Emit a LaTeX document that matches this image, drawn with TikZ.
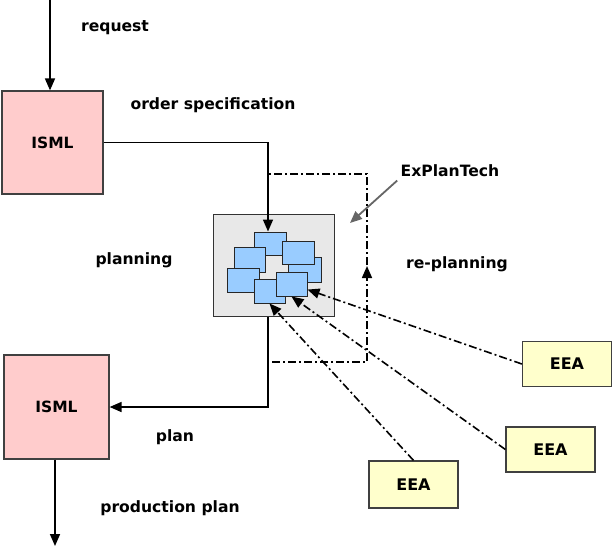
\documentclass[tikz,border=0pt]{standalone}
\usepackage{fontspec}
\setmainfont{DejaVu Sans}
\usetikzlibrary{arrows.meta}

\definecolor{ismlpink}{RGB}{255,204,204}
\definecolor{eeayellow}{RGB}{255,255,204}
\definecolor{agentblue}{RGB}{153,204,255}
\definecolor{planggrey}{RGB}{232,232,232}

\tikzset{
	lbl/.style={font=\fontsize{15.6}{18}\selectfont\bfseries},
	isml/.style={draw=black!75, fill=ismlpink, line width=1.2pt, font=\fontsize{15.5}{18}\selectfont\bfseries},
	eea/.style={draw=black!75, fill=eeayellow, line width=1.2pt, minimum width=89pt, minimum height=45pt, font=\fontsize{16}{18}\selectfont\bfseries},
	agent/.style={draw=black!85, fill=agentblue, line width=1pt, inner sep=0pt},
	flow/.style={line width=1.6pt, -{Triangle[length=12pt,width=10pt]}},
	dashdot/.style={line width=1.6pt, dash pattern=on 8pt off 3pt on 2pt off 3pt},
}

\begin{document}
\begin{tikzpicture}[x=1pt, y=-1pt]
	\useasboundingbox (0, 0) rectangle (615, 547);
	\coordinate (req) at (50, 0);
	\coordinate (out) at (55, 546);
	\coordinate (xpa) at (268, 174);
	\coordinate (xpb) at (367, 362);
	\coordinate (xptip) at (350, 223);
	\coordinate (rp) at (367, 278);
	\draw[dashdot] (xpa) rectangle (xpb);
	\draw[flow] (rp) -- ++(0, -12);

	\node[isml, minimum width=101pt, minimum height=103pt] (isml1) at (52.5, 142.5) {ISML};
	\node[isml, minimum width=105pt, minimum height=104pt] (isml2) at (56.5, 407) {ISML};
	\node[draw=black!80, fill=planggrey, line width=1.4pt, minimum width=121pt, minimum height=102pt] (plan) at (274, 265.5) {};
	\node[agent, minimum width=32pt, minimum height=23pt] (b1) at (270, 243.5) {};
	\node[agent, minimum width=33pt, minimum height=25pt] (b3) at (304.5, 269.5) {};
	\node[agent, minimum width=32pt, minimum height=23pt] (b2) at (298, 252.5) {};
	\node[agent, minimum width=31pt, minimum height=25pt] (b4) at (249.5, 259.5) {};
	\node[agent, minimum width=32pt, minimum height=24pt] (b5) at (243, 280) {};
	\node[agent, minimum width=31pt, minimum height=24pt] (b6) at (269.5, 291) {};
	\node[agent, minimum width=31pt, minimum height=24pt] (b7) at (291.5, 284) {};
	\node[eea] (eea1) at (567, 364) {EEA};
	\node[eea] (eea2) at (550.5, 449.5) {EEA};
	\node[eea, minimum height=47pt] (eea3) at (413.5, 484.5) {EEA};

	\node[lbl] (reqlbl) at (115, 28) {request};
	\node[lbl] (speclbl) at (213, 105) {order specification};
	\node[lbl] (xptlbl) at (450, 171) {ExPlanTech};
	\node[lbl] (planlbl) at (134, 260) {planning};
	\node[lbl] (replanlbl) at (457, 264) {re-planning};
	\node[lbl] (resultlbl) at (175, 437) {plan};
	\node[lbl] (prodlbl) at (170, 508) {production plan};

	\draw[flow] (req) -- (req |- isml1.north);
	\draw[flow] (isml1.east) -| (b1.north -| xpa);
	\draw[flow] (plan.south -| xpa) |- (isml2.east);
	\draw[flow] (isml2.south -| out) -- (out);
	\draw[flow, black!60, line width=1.8pt] (xptlbl.south west) -- (xptip);
	\draw[flow, dashdot] (eea1.west) -- (b7);
	\draw[flow, dashdot] (eea2.west) -- (b7.south);
	\draw[flow, dashdot] (eea3.north) -- (b6.south);
\end{tikzpicture}
\end{document}
